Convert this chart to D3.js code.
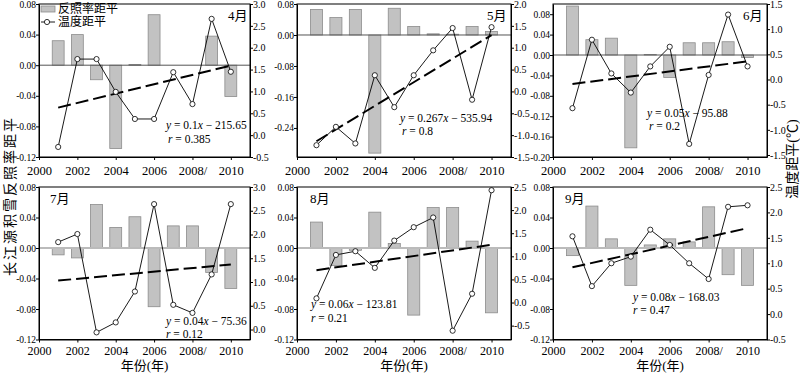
<!DOCTYPE html>
<html lang="zh">
<head>
<meta charset="utf-8">
<script src="https://d3js.org/d3.v7.min.js"></script>
<style>
  body { margin: 0; background: #fff; }
  svg text { font-family: "Liberation Serif", "Times New Roman", "Noto Sans CJK SC", serif !important; fill: #000; }
  .axis path, .axis line { stroke: #000; stroke-width: 1; }
</style>
</head>
<body>
<script>
// ---- data ----
const years = [2001, 2002, 2003, 2004, 2005, 2006, 2007, 2008, 2009, 2010];
const months = ["4月", "5月", "6月", "7月", "8月", "9月"];
const xTickValues = [2000, 2002, 2004, 2006, 2008, 2010];
const xTickLabels = ["2000", "2002", "2004", "2006", "2008/", "2010"];

// albedo anomaly (bars, left axis)
const albedoApr = [0.032, 0.040, -0.019, -0.109, 0.001, 0.066, 0, 0, 0.038, -0.041];
const albedoMay = [0.066, 0.045, 0.066, -0.305, 0.069, 0.022, 0.003, 0.002, 0.022, 0.009];
const albedoJun = [0.096, 0.030, 0.033, -0.182, 0.001, -0.044, 0.024, 0.024, 0.026, -0.005];
const albedoJul = [-0.009, -0.013, 0.057, 0.027, 0.041, -0.077, 0.029, 0.029, -0.032, -0.053];
const albedoAug = [0.034, -0.023, -0.003, 0.047, 0.006, -0.088, 0.053, 0.053, 0.009, -0.085];
const albedoSep = [-0.010, 0.055, 0.012, -0.049, 0.004, 0.012, 0.008, 0.054, -0.035, -0.049];

// temperature anomaly (line, right axis)
const tempApr = [-0.27, 1.74, 1.74, 0.99, 0.37, 0.37, 1.44, 0.71, 2.66, 1.45];
const tempMay = [-1.23, -0.81, -1.19, 0.37, -0.36, 0.37, 0.94, 1.45, -0.19, 1.47];
const tempJun = [-0.57, 0.79, 0.12, -0.26, 0.26, 0.65, -1.28, 0.09, 1.29, 0.26];
const tempJul = [1.84, 2.01, -0.06, 0.15, 0.80, 2.64, 0.52, 0.35, 1.16, 2.64];
const tempAug = [0.09, 1.03, 1.11, 0.75, 1.34, 1.63, 1.84, -0.61, 0.19, 2.43];
const tempSep = [1.53, 0.55, 1.00, 1.13, 1.66, 1.36, 1.00, 0.69, 2.11, 2.14];

// trend line values at 2001 and 2010 (right axis)
const trendYears = [2001, 2010];
const trendApr = [0.63, 1.59];
const trendMay = [-1.14, 1.29];
const trendJun = [-0.09, 0.36];
const trendJul = [1.03, 1.37];
const trendAug = [0.70, 1.25];
const trendSep = [0.92, 1.69];

const eqSlope = ["0.1", "0.267", "0.05", "0.04", "0.06", "0.08"];
const eqIntercept = ["215.65", "535.94", "95.88", "75.36", "123.81", "168.03"];
const rValues = ["0.385", "0.8", "0.2", "0.12", "0.21", "0.47"];

const leftTicksA = [0.08, 0.04, 0, -0.04, -0.08, -0.12];
const leftTicksMay = [0.08, 0, -0.08, -0.16, -0.24];
const leftTicksJun = [0.08, 0.04, 0, -0.04, -0.08, -0.12, -0.16, -0.20];
const rightTicksApr = [3.0, 2.5, 2.0, 1.5, 1.0, 0.5, 0.0, -0.5];
const rightTicksMay = [2.0, 1.5, 1.0, 0.5, 0.0, -0.5, -1.0, -1.5];
const rightTicksJun = [1.5, 1.0, 0.5, 0.0, -0.5, -1.0, -1.5];
const rightTicksJul = [3.0, 2.5, 2.0, 1.5, 1.0, 0.5, 0.0];
const rightTicksAS = [2.5, 2.0, 1.5, 1.0, 0.5, 0.0, -0.5];

// ---- layout ----
const W = 800, H = 373;
const colX0 = [39, 297, 553], colX1 = [250, 511, 767];
const rowY0 = [4, 187], rowY1 = [157, 339.5];
const rowXPad = [6, 4.3];
const rowXFont = ["12.5px", "12px"];

const panels = [
  { albedo: albedoApr, temp: tempApr, trend: trendApr, lDom: [-0.12, 0.08], rDom: [-0.5, 3.0], lTicks: leftTicksA, rTicks: rightTicksApr,
    zero: "#555", zeroW: 1, monthPos: [228, 20], eqPos: [166, 129], rPos: [168, 143] },
  { albedo: albedoMay, temp: tempMay, trend: trendMay, lDom: [-0.315, 0.08], rDom: [-1.5, 2.0], lTicks: leftTicksMay, rTicks: rightTicksMay,
    zero: "#555", zeroW: 1, monthPos: [487, 20], eqPos: [400, 122], rPos: [402, 135] },
  { albedo: albedoJun, temp: tempJun, trend: trendJun, lDom: [-0.20, 0.10], rDom: [-1.54, 1.5], lTicks: leftTicksJun, rTicks: rightTicksJun,
    zero: "#555", zeroW: 1, monthPos: [743, 20], eqPos: [647, 117], rPos: [649, 130] },
  { albedo: albedoJul, temp: tempJul, trend: trendJul, lDom: [-0.12, 0.08], rDom: [-0.21, 3.0], lTicks: leftTicksA, rTicks: rightTicksJul,
    zero: "#bbb", zeroW: 2, monthPos: [50, 203], eqPos: [166, 325], rPos: [166, 338] },
  { albedo: albedoAug, temp: tempAug, trend: trendAug, lDom: [-0.12, 0.08], rDom: [-0.8, 2.5], lTicks: leftTicksA, rTicks: rightTicksAS,
    zero: "#bbb", zeroW: 2, monthPos: [310, 203], eqPos: [311, 308], rPos: [311, 322] },
  { albedo: albedoSep, temp: tempSep, trend: trendSep, lDom: [-0.12, 0.08], rDom: [-0.5, 2.5], lTicks: leftTicksA, rTicks: rightTicksAS,
    zero: "#bbb", zeroW: 2, monthPos: [565, 203], eqPos: [633, 301], rPos: [633, 314] }
];

const svg = d3.select("body").append("svg").attr("width", W).attr("height", H);

panels.forEach(function(p, i) {
  const col = i % 3, row = Math.floor(i / 3);
  const x0 = colX0[col], x1 = colX1[col], y0 = rowY0[row], y1 = rowY1[row];

  const x = d3.scaleLinear().domain([2000, 2011]).range([x0, x1]);
  const yL = d3.scaleLinear().domain(p.lDom).range([y1, y0]);
  const yR = d3.scaleLinear().domain(p.rDom).range([y1, y0]);
  const g = svg.append("g");
  const barHalf = 0.31;

  // bars
  g.selectAll("rect.bar").data(years).enter().append("rect")
    .attr("class", "bar")
    .attr("x", d => x(d - barHalf))
    .attr("width", x(2000 + 2 * barHalf) - x(2000))
    .attr("y", (d, j) => yL(Math.max(0, p.albedo[j])))
    .attr("height", (d, j) => Math.abs(yL(p.albedo[j]) - yL(0)))
    .attr("fill", "#c2c2c2")
    .attr("stroke", "#8c8c8c")
    .attr("stroke-width", 0.8);

  // zero line
  g.append("line")
    .attr("x1", x0).attr("x2", x1)
    .attr("y1", yL(0)).attr("y2", yL(0))
    .attr("stroke", p.zero).attr("stroke-width", p.zeroW);

  // trend line
  g.append("path")
    .datum(trendYears.map((yr, j) => [yr, p.trend[j]]))
    .attr("d", d3.line().x(d => x(d[0])).y(d => yR(d[1])))
    .attr("fill", "none").attr("stroke", "#000")
    .attr("stroke-width", 2).attr("stroke-dasharray", "13,5");

  // temperature line
  g.append("path")
    .datum(years.map((yr, j) => [yr, p.temp[j]]))
    .attr("d", d3.line().x(d => x(d[0])).y(d => yR(d[1])))
    .attr("fill", "none").attr("stroke", "#000").attr("stroke-width", 0.9);

  g.selectAll("circle").data(years).enter().append("circle")
    .attr("cx", d => x(d))
    .attr("cy", (d, j) => yR(p.temp[j]))
    .attr("r", 2.6)
    .attr("fill", "#fff").attr("stroke", "#000").attr("stroke-width", 0.8);

  // frame
  g.append("rect")
    .attr("x", x0).attr("y", y0).attr("width", x1 - x0).attr("height", y1 - y0)
    .attr("fill", "none").attr("stroke", "#000").attr("stroke-width", 1);

  // axes
  g.append("g").attr("class", "axis")
    .attr("transform", "translate(0," + y1 + ")")
    .call(d3.axisBottom(x).tickValues(xTickValues).tickSize(3).tickSizeOuter(0)
      .tickPadding(rowXPad[row]).tickFormat((d, j) => xTickLabels[j]))
    .call(a => a.selectAll("text").style("font-size", rowXFont[row]));

  g.append("g").attr("class", "axis")
    .attr("transform", "translate(" + x0 + ",0)")
    .call(d3.axisLeft(yL).tickValues(p.lTicks).tickSize(3).tickSizeOuter(0)
      .tickPadding(0).tickFormat(d => d.toFixed(2)))
    .call(a => a.selectAll("text").style("font-size", "9.5px"));

  g.append("g").attr("class", "axis")
    .attr("transform", "translate(" + x1 + ",0)")
    .call(d3.axisRight(yR).tickValues(p.rTicks).tickSize(3).tickSizeOuter(0)
      .tickPadding(0).tickFormat(d => d.toFixed(1)))
    .call(a => a.selectAll("text").style("font-size", "10px"));

  // month label
  g.append("text")
    .attr("x", p.monthPos[0]).attr("y", p.monthPos[1])
    .style("font-size", "13px")
    .text(months[i]);

  // regression equation
  const eq = g.append("text").attr("x", p.eqPos[0]).attr("y", p.eqPos[1]).style("font-size", "11.5px");
  eq.append("tspan").style("font-style", "italic").text("y");
  eq.append("tspan").text(" = " + eqSlope[i]);
  eq.append("tspan").style("font-style", "italic").text("x");
  eq.append("tspan").text(" \u2212 " + eqIntercept[i]);

  const rt = g.append("text").attr("x", p.rPos[0]).attr("y", p.rPos[1]).style("font-size", "11.5px");
  rt.append("tspan").style("font-style", "italic").text("r");
  rt.append("tspan").text(" = " + rValues[i]);

  // x title for bottom row
  if (row === 1) {
    g.append("text")
      .attr("x", (x0 + x1) / 2).attr("y", 370)
      .attr("text-anchor", "middle")
      .style("font-size", "13px")
      .text("年份(年)");
  }

  // legend in first panel
  if (i === 0) {
    const lg = g.append("g");
    lg.append("rect").attr("x", 41).attr("y", 6).attr("width", 14).attr("height", 6)
      .attr("fill", "#c2c2c2").attr("stroke", "#8c8c8c").attr("stroke-width", 0.8);
    lg.append("text").attr("x", 58).attr("y", 13)
      .style("font-size", "12px").text("反照率距平");
    lg.append("line").attr("x1", 41).attr("x2", 55).attr("y1", 22).attr("y2", 22)
      .attr("stroke", "#000").attr("stroke-width", 0.9);
    lg.append("circle").attr("cx", 47).attr("cy", 22).attr("r", 2.6)
      .attr("fill", "#fff").attr("stroke", "#000").attr("stroke-width", 0.8);
    lg.append("text").attr("x", 58).attr("y", 26)
      .style("font-size", "12px").text("温度距平");
  }
});

// y titles
svg.append("text")
  .attr("transform", "translate(15,196) rotate(-90)")
  .attr("text-anchor", "middle")
  .style("font-size", "14px").style("letter-spacing", "2px")
  .text("长江源积雪反照率距平");

svg.append("text")
  .attr("transform", "translate(797,159) rotate(-90)")
  .attr("text-anchor", "middle")
  .style("font-size", "14px")
  .text("温度距平(℃)");
</script>
</body>
</html>
